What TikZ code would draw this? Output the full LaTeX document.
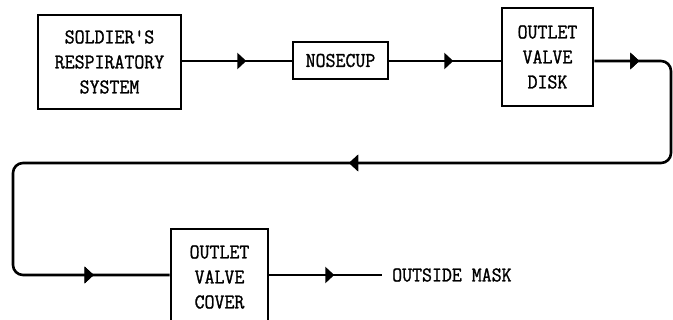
\documentclass[tikz,border=0pt]{standalone}
\usepackage{fontspec}
\newfontfamily\tw[FakeStretch=0.92,FakeBold=1.2]{Latin Modern Mono}
\usetikzlibrary{arrows.meta,decorations.markings}
\tikzset{
  blk/.style={draw, line width=2.6pt, minimum width=#1, inner sep=0pt, align=center,
     font=\tw\fontsize{21}{25}\selectfont},
  conn/.style={line width=2.6pt},
  tipat/.style={postaction={decorate}, decoration={markings,
     mark=at position #1 with {\arrow{Triangle[length=9pt,width=16pt]}}}},
}
\begin{document}
\begin{tikzpicture}[x=1pt,y=-1pt]
\useasboundingbox (0,0) rectangle (673,320);
\node[blk=143pt, minimum height=94pt] (sold) at (109.5,62) {SOLDIER'S\\RESPIRATORY\\SYSTEM};
\node[blk=95pt, minimum height=37pt] (nose) at (340.5,60.5) {NOSECUP};
\node[blk=91pt, minimum height=98pt] (disk) at (547.5,57) {OUTLET\\VALVE\\DISK};
\node[blk=97pt, minimum height=96pt] (cover) at (219.5,277) {OUTLET\\VALVE\\COVER};
\node[anchor=west, inner sep=0pt, font=\tw\fontsize{21}{25}\selectfont] (out) at (392,275) {OUTSIDE MASK};
\coordinate (outend) at (382,275);
\coordinate (r1) at (671,61);
\coordinate (r2) at (671,163);
\coordinate (l1) at (13,163);
\coordinate (l2) at (13,275);
\draw[conn, tipat=64pt] (sold.east |- 0,61) -- (nose.west |- 0,61);
\draw[conn, tipat=64pt] (nose.east |- 0,61) -- (disk.west |- 0,61);
\draw[conn, rounded corners=10pt, tipat=45pt, tipat=492pt, tipat=-76pt]
  (disk.east |- 0,61) -- (r1) -- (r2) -- (l1) -- (l2) -- (cover.west |- 0,275);
\draw[conn, tipat=65pt] (cover.east |- 0,275) -- (outend);
\end{tikzpicture}
\end{document}
